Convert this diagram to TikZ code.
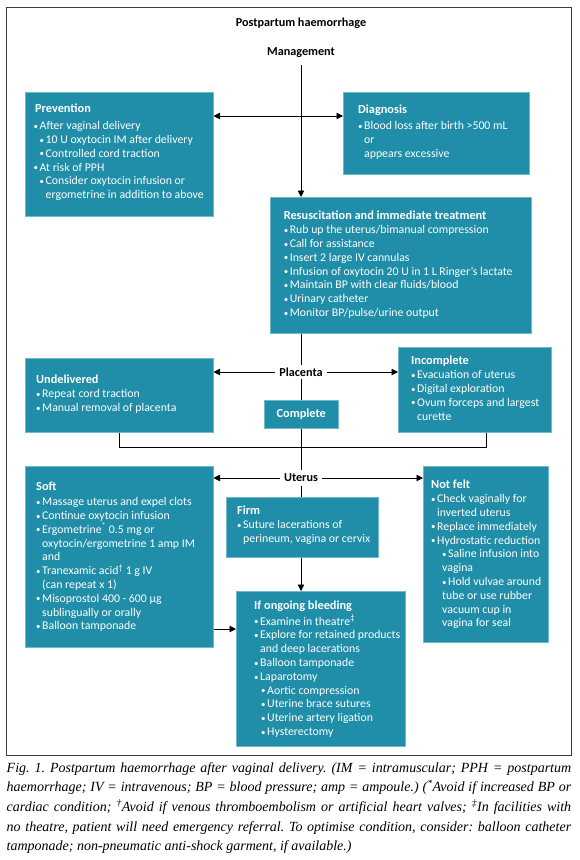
\documentclass[tikz,border=0pt]{standalone}
\usepackage{fontspec}
\usepackage{graphicx}
\setmainfont{Carlito}
\newfontfamily\capfont{Liberation Serif}
\usetikzlibrary{arrows.meta}
\definecolor{boxteal}{RGB}{32,142,168}
\definecolor{boxedge}{RGB}{110,185,203}
\definecolor{framegray}{RGB}{60,60,60}
\newcommand\bul{\makebox[6pt][l]{\raisebox{0.3pt}{\scalebox{0.75}{•}}}}
\newcommand\ind[1]{\hspace*{#1pt}}
\newcommand\ttl[1]{{\fontsize{12.3}{13.8}\selectfont\bfseries #1}}
\begin{document}
\begin{tikzpicture}[x=1pt,y=-1pt,
  box/.style={rectangle, fill=boxteal, draw=boxedge, line width=0.5pt, anchor=north west, inner sep=0pt},
  txt/.style={anchor=north west, inner sep=0pt, align=left, text=white, font=\fontsize{11.8}{13.8}\selectfont},
  lbl/.style={inner xsep=4pt, inner ysep=2pt, font=\fontsize{12.2}{14}\selectfont\bfseries},
  conn/.style={line width=0.9pt, black},
  arr/.style={conn, -{Triangle[length=6.5pt,width=6.5pt]}},
  darr/.style={conn, {Triangle[length=6.5pt,width=6.5pt]}-{Triangle[length=6.5pt,width=6.5pt]}}
]
\useasboundingbox (0,0) rectangle (580,860);
\draw[framegray, line width=1pt] (6.5,7) rectangle (571,755);

% labels
\node[lbl] (title) at (301,23) {Postpartum haemorrhage};
\node[lbl] (mgmt) at (301,53) {Management};
\node[lbl] (plac) at (301,372) {Placenta};
\node[lbl, inner ysep=4pt] (uter) at (301,478) {Uterus};

% boxes
\node[box, minimum width=188pt, minimum height=124pt] (prev) at (25,92) {};
\node[box, minimum width=186pt, minimum height=82pt] (diag) at (343,92) {};
\node[box, minimum width=261.5pt, minimum height=136pt] (resus) at (269.5,197) {};
\node[box, minimum width=188pt, minimum height=74pt] (undel) at (25,358) {};
\node[box, minimum width=153pt, minimum height=85pt] (incomp) at (398,347) {};
\node[box, minimum width=74pt, minimum height=28pt] (compl) at (264,400) {};
\node[box, minimum width=188pt, minimum height=181pt] (soft) at (25,466) {};
\node[box, minimum width=125pt, minimum height=176pt] (notfelt) at (423,466) {};
\node[box, minimum width=152pt, minimum height=60pt] (firm) at (226,497) {};
\node[box, minimum width=169pt, minimum height=155pt] (ifb) at (236,591) {};

% texts
\node[txt] (prevt) at (33.5,103) {\strut\ind{1.5}\ttl{Prevention}\\[3pt]
\bul After vaginal delivery\\
\ind{6}\bul 10 U oxytocin IM after delivery\\
\ind{6}\bul Controlled cord traction\\
\bul At risk of PPH\\
\ind{6}\bul Consider oxytocin infusion or\\
\ind{12}ergometrine in addition to above};

\node[txt] (diagt) at (358,104) {\strut\ttl{Diagnosis}\\[2pt]
\bul Blood loss after birth >500 mL\\
\ind{6}or\\
\ind{6}appears excessive};

\node[txt] (resust) at (283.6,210) {\strut\ttl{Resuscitation and immediate treatment}\\
\bul Rub up the uterus/bimanual compression\\
\bul Call for assistance\\
\bul Insert 2 large IV cannulas\\
\bul Infusion of oxytocin 20 U in 1 L Ringer's lactate\\
\bul Maintain BP with clear fluids/blood\\
\bul Urinary catheter\\
\bul Monitor BP/pulse/urine output};

\node[txt] (undelt) at (36,374) {\strut\ttl{Undelivered}\\
\bul Repeat cord traction\\
\bul Manual removal of placenta};

\node[txt] (incompt) at (411,355) {\strut\ttl{Incomplete}\\
\bul Evacuation of uterus\\
\bul Digital exploration\\
\bul Ovum forceps and largest\\
\ind{6}curette};

\node[text=white, inner sep=0pt, font=\fontsize{12.3}{14}\selectfont\bfseries] (complt) at (compl.center) {Complete};

\node[txt] (softt) at (36,481) {\strut\ttl{Soft}\\[1pt]
\bul Massage uterus and expel clots\\
\bul Continue oxytocin infusion\\
\bul Ergometrine\textsuperscript{*} 0.5 mg or\\
\ind{6}oxytocin/ergometrine 1 amp IM\\
\ind{6}and\\
\bul Tranexamic acid\textsuperscript{†} 1 g IV\\
\ind{6}(can repeat x 1)\\
\bul Misoprostol 400 - 600 µg\\
\ind{6}sublingually or orally\\
\bul Balloon tamponade};

\node[txt] (notfeltt) at (431,479) {\strut\ttl{Not felt}\\
\bul Check vaginally for\\
\ind{6}inverted uterus\\
\bul Replace immediately\\
\bul Hydrostatic reduction\\
\ind{11}\bul Saline infusion into\\
\ind{11}vagina\\
\ind{11}\bul Hold vulvae around\\
\ind{11}tube or use rubber\\
\ind{11}vacuum cup in\\
\ind{11}vagina for seal};

\node[txt] (firmt) at (237,505) {\strut\ttl{Firm}\\
\bul Suture lacerations of\\
\ind{6}perineum, vagina or cervix};

\node[txt] (ifbt) at (254,600) {\strut\ttl{If ongoing bleeding}\\
\bul Examine in theatre\textsuperscript{‡}\\
\bul Explore for retained products\\
\ind{6}and deep lacerations\\
\bul Balloon tamponade\\
\bul Laparotomy\\
\ind{7}\bul Aortic compression\\
\ind{7}\bul Uterine brace sutures\\
\ind{7}\bul Uterine artery ligation\\
\ind{7}\bul Hysterectomy};

% connectors
\coordinate (j1) at (301,116);
\coordinate (m0) at (301,65);
\draw[arr] (m0) -- (m0 |- resus.north);
\draw[darr] (j1 -| prev.east) -- (j1 -| diag.west);
\draw[conn] (plac.north |- resus.south) -- (plac.north);
\draw[arr] (plac.west) -- (plac.west -| undel.east);
\draw[arr] (plac.east) -- (plac.east -| incomp.west);
\draw[conn] (plac.south) -- (plac.south |- compl.north);
\draw[conn] (plac.south |- compl.south) -- (uter.north);
\coordinate (b1) at (119,447);
\coordinate (b2) at (486,447);
\draw[conn] (b1 |- undel.south) -- (b1) -- (b2) -- (b2 |- incomp.south);
\draw[arr] (uter.west) -- (uter.west -| soft.east);
\draw[arr] (uter.east) -- (uter.east -| notfelt.west);
\draw[conn] (uter.south) -- (uter.south |- firm.north);
\draw[arr] (uter.south |- firm.south) -- (uter.south |- ifb.north);
\coordinate (j5) at (0,629);
\draw[arr] (soft.east |- j5) -- (ifb.west |- j5);

% caption
\node[anchor=north west, inner sep=0pt, text width=564.5pt, align=justify,
  font=\capfont\itshape\fontsize{14}{19.7}\selectfont\frenchspacing] (cap) at (6.5,758) {\strut Fig. 1. Postpartum haemorrhage after vaginal delivery. (IM = intramuscular; PPH = postpartum\linebreak
haemorrhage; IV = intravenous; BP = blood pressure; amp = ampoule.) (\textsuperscript{*}Avoid if increased BP or\linebreak
cardiac condition; \textsuperscript{†}Avoid if venous thromboembolism or artificial heart valves; \textsuperscript{‡}In facilities with\linebreak
no theatre, patient will need emergency referral. To optimise condition, consider: balloon catheter\linebreak
tamponade; non-pneumatic anti-shock garment, if available.)};
\end{tikzpicture}
\end{document}
